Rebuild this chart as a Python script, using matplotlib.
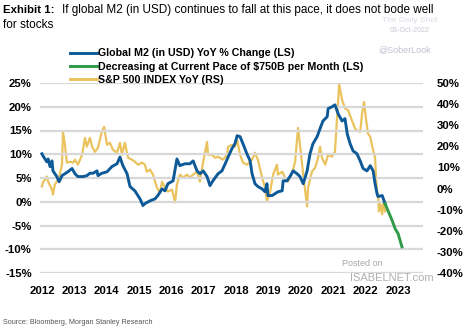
import numpy as np
import matplotlib
matplotlib.use("Agg")
import matplotlib.pyplot as plt
from matplotlib.lines import Line2D

plt.rcParams['font.family'] = ['Liberation Sans', 'DejaVu Sans']

# Global M2 in USD, YoY % change (left scale)
m2_t = [2012.00, 2012.03, 2012.15, 2012.19, 2012.25, 2012.31, 2012.34, 2012.46, 2012.53, 2012.62,
        2012.71, 2012.80, 2012.93, 2013.02, 2013.11, 2013.27, 2013.39, 2013.48, 2013.58, 2013.70,
        2013.73, 2013.85, 2014.01, 2014.16, 2014.32, 2014.41, 2014.50, 2014.63, 2014.72, 2014.87,
        2015.03, 2015.12, 2015.18, 2015.34, 2015.49, 2015.58, 2015.71, 2015.80, 2015.89, 2016.05,
        2016.17, 2016.26, 2016.42, 2016.57, 2016.67, 2016.79, 2016.88, 2016.98, 2017.10, 2017.19,
        2017.28, 2017.44, 2017.56, 2017.66, 2017.75, 2017.87, 2017.96, 2018.03, 2018.12, 2018.21,
        2018.33, 2018.43, 2018.49, 2018.58, 2018.67, 2018.80, 2018.89, 2018.95, 2018.98, 2019.11,
        2019.20, 2019.29, 2019.42, 2019.45, 2019.57, 2019.66, 2019.76, 2019.88, 2019.97, 2020.07,
        2020.19, 2020.28, 2020.37, 2020.50, 2020.59, 2020.68, 2020.81, 2020.84, 2020.96, 2021.05,
        2021.15, 2021.27, 2021.36, 2021.43, 2021.52, 2021.61, 2021.73, 2021.83, 2021.92, 2022.04,
        2022.14, 2022.23, 2022.29, 2022.35, 2022.38, 2022.51, 2022.60]
m2_v = [10.1, 9.7, 8.4, 9.0, 7.4, 8.6, 6.5, 5.3, 4.2, 5.5,
        5.9, 6.3, 7.0, 5.9, 5.3, 5.3, 5.5, 6.0, 6.0, 6.5,
        5.5, 6.0, 6.3, 7.4, 8.0, 9.4, 7.6, 5.9, 3.2, 2.3,
        0.6, -0.8, -0.4, 0.2, 0.6, 1.3, 2.7, 2.3, 3.8, 4.4,
        9.0, 7.6, 8.0, 8.0, 8.6, 6.5, 5.9, 6.5, 5.3, 3.4,
        4.4, 5.9, 6.5, 8.0, 9.4, 11.2, 12.2, 13.9, 13.7, 12.2,
        10.1, 8.6, 5.9, 3.8, 3.2, 2.7, 2.1, 3.8, 1.3, 1.3,
        1.7, 2.1, 2.3, 4.4, 4.4, 5.3, 6.5, 5.9, 5.3, 3.8,
        6.5, 10.1, 12.2, 13.7, 15.4, 17.0, 17.9, 19.6, 20.0, 20.4,
        18.5, 17.0, 17.5, 14.3, 12.2, 10.7, 10.1, 8.6, 7.0, 6.5,
        7.6, 6.5, 3.8, 1.7, 1.1, 1.3, -0.4]

# projection at -$750B per month (left scale)
proj_t = [2022.60, 2022.69, 2022.82, 2022.91, 2023.00, 2023.12]
proj_v = [-0.4, -1.9, -4.0, -5.7, -6.7, -9.5]

# S&P 500 YoY % (right scale)
spx_t = [2012.00, 2012.03, 2012.15, 2012.19, 2012.31, 2012.34, 2012.40, 2012.46, 2012.53, 2012.62,
         2012.65, 2012.71, 2012.77, 2012.87, 2012.96, 2013.02, 2013.11, 2013.24, 2013.33, 2013.39,
         2013.48, 2013.55, 2013.64, 2013.73, 2013.85, 2013.92, 2014.01, 2014.10, 2014.19, 2014.32,
         2014.41, 2014.47, 2014.56, 2014.66, 2014.78, 2014.87, 2014.97, 2015.09, 2015.18, 2015.24,
         2015.34, 2015.43, 2015.55, 2015.65, 2015.71, 2015.80, 2015.89, 2016.02, 2016.11, 2016.17,
         2016.26, 2016.36, 2016.48, 2016.57, 2016.67, 2016.79, 2016.88, 2016.98, 2017.10, 2017.13,
         2017.25, 2017.35, 2017.44, 2017.59, 2017.72, 2017.75, 2017.87, 2017.96, 2018.03, 2018.12,
         2018.21, 2018.33, 2018.40, 2018.49, 2018.58, 2018.67, 2018.80, 2018.89, 2018.95, 2019.05,
         2019.14, 2019.26, 2019.29, 2019.42, 2019.51, 2019.60, 2019.73, 2019.82, 2019.91, 2019.97,
         2020.07, 2020.19, 2020.22, 2020.34, 2020.44, 2020.53, 2020.59, 2020.65, 2020.75, 2020.84,
         2020.96, 2021.05, 2021.18, 2021.27, 2021.36, 2021.46, 2021.58, 2021.67, 2021.73, 2021.83,
         2021.89, 2021.95, 2022.00, 2022.07, 2022.14, 2022.23, 2022.29, 2022.32, 2022.35, 2022.38,
         2022.41, 2022.45, 2022.51, 2022.54, 2022.60]
spx_v = [1.0, 2.8, 5.7, 3.3, -0.5, -2.8, 1.9, 3.3, 5.2, 11.3,
         26.9, 20.7, 12.3, 12.7, 12.3, 13.7, 11.3, 16.0, 24.0, 19.8,
         24.0, 19.8, 17.4, 19.3, 26.9, 29.2, 20.7, 21.7, 18.4, 17.0,
         21.7, 16.0, 21.7, 14.6, 13.7, 12.7, 11.3, 12.3, 11.3, 8.0,
         9.0, 6.6, 0.5, -1.9, 3.3, 0.5, -1.4, -0.5, -6.6, 1.9,
         6.6, 5.2, 6.6, 5.2, 6.6, 8.0, 3.3, 12.7, 22.1, 16.0,
         16.0, 14.6, 15.1, 13.7, 16.0, 19.8, 20.7, 19.8, 23.1, 16.0,
         12.3, 11.3, 12.3, 13.7, 17.0, 13.7, 5.2, 0.5, -6.1, -1.4,
         6.6, 11.3, 6.6, 8.0, 5.2, 3.3, 7.5, 12.7, 28.7, 20.7,
         6.6, -8.5, 0.5, 8.0, 9.9, 14.6, 19.8, 14.6, 11.3, 16.0,
         15.1, 17.4, 49.5, 42.0, 38.0, 37.0, 32.0, 28.5, 27.5, 26.9,
         35.8, 41.0, 34.0, 26.0, 24.5, 18.0, 14.6, 5.0, -1.4, -2.8,
         -10.8, -7.5, -12.2, -6.1, -10.8]

years = list(range(2012, 2024))
left_ticks = [-15, -10, -5, 0, 5, 10, 15, 20, 25]
right_ticks = [-40, -30, -20, -10, 0, 10, 20, 30, 40, 50]

BLUE = '#0e5a98'
GOLD = '#ebc35e'
GREEN = '#2f9a48'

fig = plt.figure(figsize=(4.65, 3.35), dpi=100)
ax = fig.add_axes([40 / 465, 62 / 335, 383 / 465, 190 / 335])
ax2 = ax.twinx()

ax.plot(m2_t, m2_v, color=BLUE, lw=2.1, zorder=3)
ax.plot(proj_t, proj_v, color=GREEN, lw=2.1, zorder=3)
ax2.plot(spx_t, spx_v, color=GOLD, lw=1.6, zorder=2)
ax.set_zorder(ax2.get_zorder() + 1)
ax.patch.set_visible(False)

ax.set_xlim(2011.94, 2023.77)
ax.set_ylim(-15, 25)
ax2.set_ylim(-40, 50)

ax.set_yticks(left_ticks)
ax.set_yticklabels([f'{t}%' for t in left_ticks])
ax2.set_yticks(right_ticks)
ax2.set_yticklabels([f'{t}%' for t in right_ticks])
ax.set_xticks(years)
ax.set_xticklabels([str(y) for y in years])

ax.grid(axis='y', color='#d8d8d8', lw=1.6)
ax.set_axisbelow(True)
for a in (ax, ax2):
    for s in a.spines.values():
        s.set_visible(False)
    a.tick_params(length=0, labelsize=8.2)
    for lab in a.get_xticklabels() + a.get_yticklabels():
        lab.set_fontweight('bold')
ax.tick_params(axis='y', pad=6)
ax.tick_params(axis='x', pad=9)
ax2.tick_params(axis='y', pad=10)

handles = [Line2D([], [], color=BLUE, lw=2.1),
           Line2D([], [], color=GREEN, lw=2.1),
           Line2D([], [], color=GOLD, lw=2.1)]
labels = ['Global M2 (in USD) YoY % Change (LS)',
          'Decreasing at Current Pace of $750B per Month (LS)',
          'S&P 500 INDEX YoY (RS)']
fig.legend(handles, labels, loc='upper left', bbox_to_anchor=(65 / 465, 1 - 43 / 335),
           frameon=False, handlelength=2.5, handletextpad=0.1, labelspacing=0.3,
           borderpad=0, prop={'weight': 'bold', 'size': 7.7})

# watermarks behind the title
fig.text(410 / 465, 1 - 21 / 335, 'The Daily Shot', fontsize=6, color='#dcdce6', ha='center', va='center', zorder=0)
fig.text(410 / 465, 1 - 31 / 335, '03-Oct-2022', fontsize=5.2, color='#c8c8d4', ha='center', va='center', zorder=0)
fig.text(405 / 465, 1 - 50 / 335, '@SoberLook', fontsize=6.5, color='#c0c0d4', ha='center', va='center')
fig.text(362 / 465, 1 - 263 / 335, 'Posted on', fontsize=6.5, color='#a8a8a8', ha='center', va='center')
fig.text(350 / 465, 1 - 278 / 335, 'ISABELNET.com', fontsize=8, color='#b0b0b0', ha='left', va='center')

fig.text(3 / 465, 1 - 10 / 335, 'Exhibit 1:', fontsize=8.2, fontweight='bold', va='center')
fig.text(62 / 465, 1 - 10 / 335,
         'If global M2 (in USD) continues to fall at this pace, it does not bode well',
         fontsize=8.5, va='center')
fig.text(3 / 465, 1 - 25 / 335, 'for stocks', fontsize=8.5, va='center')

fig.text(3 / 465, 1 - 322 / 335, 'Source: Bloomberg, Morgan Stanley Research', fontsize=5.2,
         color='#555555', va='center')

fig.savefig('out.png', dpi=100)
